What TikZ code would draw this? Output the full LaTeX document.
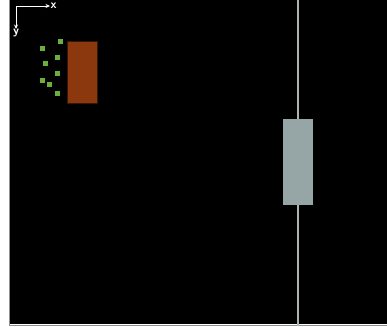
\documentclass[tikz,border=0pt]{standalone}
\usepackage{tikz}
\usetikzlibrary{arrows.meta,positioning}
\definecolor{simgray}{RGB}{150,165,165}
\definecolor{railgray}{RGB}{170,180,180}
\definecolor{rustbrown}{RGB}{139,56,14}
\definecolor{leafgreen}{RGB}{106,176,60}
\tikzset{
  pellet/.style={fill=leafgreen, draw=black, line width=0.3pt, minimum size=6.5pt, inner sep=0pt},
  axlabel/.style={text=white, font=\sffamily\bfseries\large, inner sep=0.3pt}
}

\begin{document}
\begin{tikzpicture}[x=1pt, y=-1pt]
    % canvas
    \useasboundingbox (0,0) rectangle (387,326);
    \fill[white] (0,0) rectangle (387,326);
    \fill[black] (9,0) rectangle (387,324);
    \draw[railgray!80!black, line width=1pt] (9,0) -- (9,325) -- (387,325);
    % axes
    \coordinate (o) at (16,6);
    \node[axlabel, anchor=west] (xl) at (50,6) {x};
    \node[axlabel, anchor=north] (yl) at (16,29) {y};
    \draw[white, line width=0.9pt, -{Stealth[length=4.5pt,width=4pt]}] (o) -- (xl.west);
    \draw[white, line width=0.9pt, -{Stealth[length=4.5pt,width=4pt]}] (o) -- (yl.north);
    % particles
    \foreach \px/\py [count=\i] in {60/41, 42/48, 57/57, 45/63, 57/73, 42/80, 49/84, 57/93}
        \node[pellet] (p\i) at (\px,\py) {};
    % source block
    \node[fill=rustbrown, draw=black!60!rustbrown, line width=0.5pt, minimum width=30pt,
          minimum height=62pt, inner sep=0pt, anchor=north west] (src) at (66.5,41) {};
    % rail and slider
    \coordinate (rtop) at (298,0);
    \coordinate (rbot) at (298,326);
    \draw[railgray, line width=2.5pt] (rtop) -- (rbot);
    \node[fill=simgray, minimum width=30pt, minimum height=86pt, inner sep=0pt,
          anchor=north west] (slider) at (283,119) {};
\end{tikzpicture}
\end{document}
